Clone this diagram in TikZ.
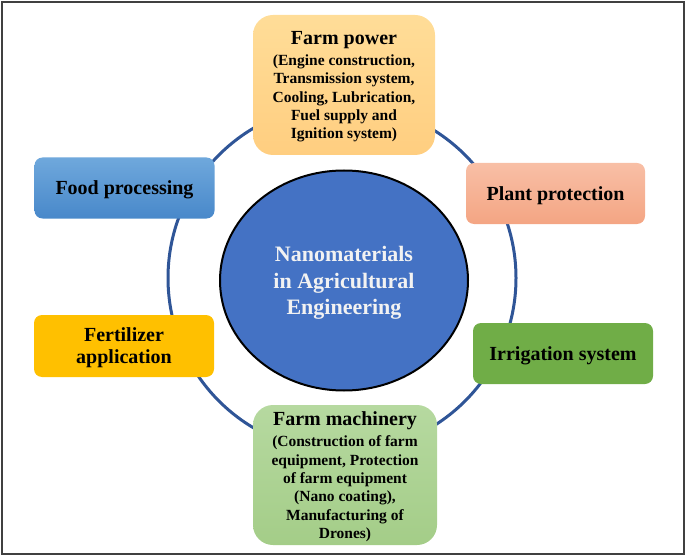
\documentclass[tikz,border=0pt]{standalone}
\usepackage{fontspec}
\setmainfont{Liberation Serif}
\usetikzlibrary{shapes.geometric}

\definecolor{ringblue}{HTML}{2F5597}
\definecolor{coreblue}{HTML}{4472C4}
\definecolor{frameg}{HTML}{404040}

\begin{document}
\begin{tikzpicture}[x=1pt,y=-1pt,
    box/.style={rounded corners=8pt,inner sep=0pt,text depth=0pt,
    minimum width=180pt,minimum height=61pt,align=center,
    font=\bfseries\fontsize{20}{22}\selectfont},
    bigbox/.style={box,rounded corners=20pt,minimum height=140pt,
    font=\bfseries\fontsize{15.5}{18.3}\selectfont}]

  \useasboundingbox (0,0) rectangle (685,556);
  \draw[frameg,line width=2pt] (1.5,2) rectangle (683.5,554);

  % ring behind the boxes
  \draw[ringblue,line width=3pt] (342,278) circle[radius=174pt];

  \node[ellipse,draw=black,line width=2pt,fill=coreblue,
    minimum width=248pt,minimum height=220pt,text=white!95!black,
    text depth=0pt,align=center,
    font=\bfseries\fontsize{22}{26.7}\selectfont]
    (core) at (344,280.5) {Nanomaterials\\in Agricultural\\Engineering};

  \node[bigbox,minimum width=182pt,top color={rgb,255:red,255;green,221;blue,152},
    bottom color={rgb,255:red,255;green,206;blue,128}] (power) at (344,85)
    {{\fontsize{20}{21}\selectfont Farm power}\\[3pt]
     (Engine construction,\\Transmission system,\\
     Cooling, Lubrication,\\Fuel supply and\\Ignition system)};

  \node[box,top color={rgb,255:red,111;green,168;blue,220},
    bottom color={rgb,255:red,72;green,136;blue,202}] (food)
    at (124.5,188) {Food processing};

  \node[box,minimum width=179pt,top color={rgb,255:red,248;green,191;blue,166},
    bottom color={rgb,255:red,244;green,165;blue,131}] (plant)
    at (555.5,193.5) {Plant protection};

  \node[box,minimum height=62pt,fill={rgb,255:red,255;green,192;blue,0}]
    (fert) at (124,346) {Fertilizer\\application};

  \node[box,fill={rgb,255:red,112;green,173;blue,71}] (irri)
    at (563,353.5) {Irrigation system};

  \node[bigbox,minimum width=184pt,top color={rgb,255:red,182;green,217;blue,160},
    bottom color={rgb,255:red,164;green,205;blue,136}] (mach) at (345,475)
    {{\fontsize{20}{21}\selectfont Farm machinery}\\[3pt]
     (Construction of farm\\equipment, Protection\\
     of farm equipment\\(Nano coating),\\Manufacturing of\\Drones)};

\end{tikzpicture}
\end{document}
